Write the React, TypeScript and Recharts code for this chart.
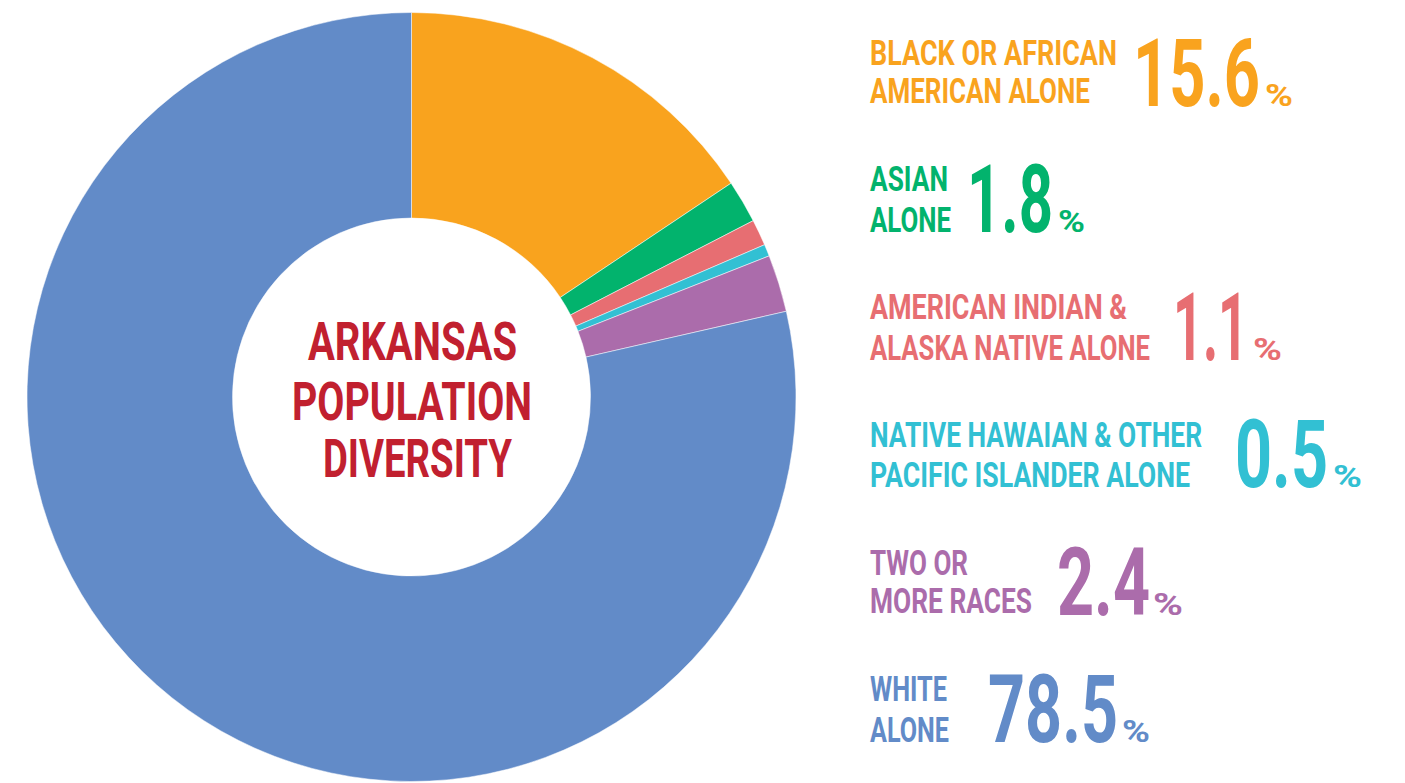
import React from "react";
import { PieChart, Pie, Cell } from "recharts";

const categories = [
  "BLACK OR AFRICAN AMERICAN ALONE",
  "ASIAN ALONE",
  "AMERICAN INDIAN & ALASKA NATIVE ALONE",
  "NATIVE HAWAIIAN & OTHER PACIFIC ISLANDER ALONE",
  "TWO OR MORE RACES",
  "WHITE ALONE",
];
const labelLines = [
  ["BLACK OR AFRICAN", "AMERICAN ALONE"],
  ["ASIAN", "ALONE"],
  ["AMERICAN INDIAN &", "ALASKA NATIVE ALONE"],
  ["NATIVE HAWAIAN & OTHER", "PACIFIC ISLANDER ALONE"],
  ["TWO OR", "MORE RACES"],
  ["WHITE", "ALONE"],
];
const values = [15.6, 1.8, 1.1, 0.5, 2.4, 78.5];
const colors = ["#F9A31E", "#02B36D", "#E76E72", "#32C0D3", "#AB6CAB", "#628BC8"];
const titleLines = ["ARKANSAS", "POPULATION", "DIVERSITY"];

// layout only (positions / sizes)
const labelLayout = [
  { x: 870, b1: 65, w1: 247, b2: 103, w2: 220, nx: 1133, nw: 127, nb: 106, px: 1265, pw: 28 },
  { x: 870, b1: 191, w1: 78, b2: 232, w2: 81, nx: 967, nw: 86, nb: 232, px: 1058, pw: 27 },
  { x: 870, b1: 319, w1: 257, b2: 360, w2: 280, nx: 1173, nw: 75, nb: 360, px: 1253, pw: 29 },
  { x: 870, b1: 447, w1: 332, b2: 487, w2: 320, nx: 1235, nw: 93, nb: 487, px: 1333, pw: 29 },
  { x: 870, b1: 575, w1: 98, b2: 613, w2: 162, nx: 1057, nw: 93, nb: 615, px: 1153, pw: 30 },
  { x: 870, b1: 701, w1: 77, b2: 742, w2: 79, nx: 988, nw: 130, nb: 742, px: 1122, pw: 28 },
];
const titleLayout = [
  { x: 308, w: 209, b: 360 },
  { x: 292, w: 240, b: 420 },
  { x: 323, w: 189, b: 477 },
];

const data = categories.map((name, i) => ({ name, value: values[i] }));
const FONT = "Roboto, 'Noto Sans', sans-serif";

export default function App() {
  return (
    <div style={{ position: "fixed", left: 0, top: 0, width: 1405, height: 783, background: "#fff" }}>
      <PieChart width={1405} height={783} margin={{ top: 0, right: 0, bottom: 0, left: 0 }}>
        <Pie
          data={data}
          dataKey="value"
          nameKey="name"
          cx={411.5}
          cy={397}
          innerRadius={179}
          outerRadius={384.5}
          startAngle={90}
          endAngle={-270}
          stroke="#ffffff"
          strokeWidth={0.5}
          isAnimationActive={false}
        >
          {data.map((d, i) => (
            <Cell key={d.name} fill={colors[i]} />
          ))}
        </Pie>
      </PieChart>
      <svg
        width={1405}
        height={783}
        style={{ position: "absolute", left: 0, top: 0, pointerEvents: "none" }}
      >
        {titleLines.map((t, i) => (
          <text
            key={t}
            x={titleLayout[i].x}
            y={titleLayout[i].b}
            fill="#C1202F"
            fontFamily={FONT}
            fontWeight={700}
            fontSize={54}
            textLength={titleLayout[i].w}
            lengthAdjust="spacingAndGlyphs"
          >
            {t}
          </text>
        ))}
        {labelLines.map((lines, i) => {
          const L = labelLayout[i];
          return (
            <g key={categories[i]} fill={colors[i]} fontFamily={FONT} fontWeight={700}>
              <text x={L.x} y={L.b1} fontSize={35} textLength={L.w1} lengthAdjust="spacingAndGlyphs">
                {lines[0]}
              </text>
              <text x={L.x} y={L.b2} fontSize={35} textLength={L.w2} lengthAdjust="spacingAndGlyphs">
                {lines[1]}
              </text>
              <text x={L.nx} y={L.nb} fontSize={94} textLength={L.nw} lengthAdjust="spacingAndGlyphs">
                {values[i].toFixed(1)}
              </text>
              <text x={L.px} y={L.nb} fontSize={32} textLength={L.pw} lengthAdjust="spacingAndGlyphs">
                %
              </text>
            </g>
          );
        })}
      </svg>
    </div>
  );
}
